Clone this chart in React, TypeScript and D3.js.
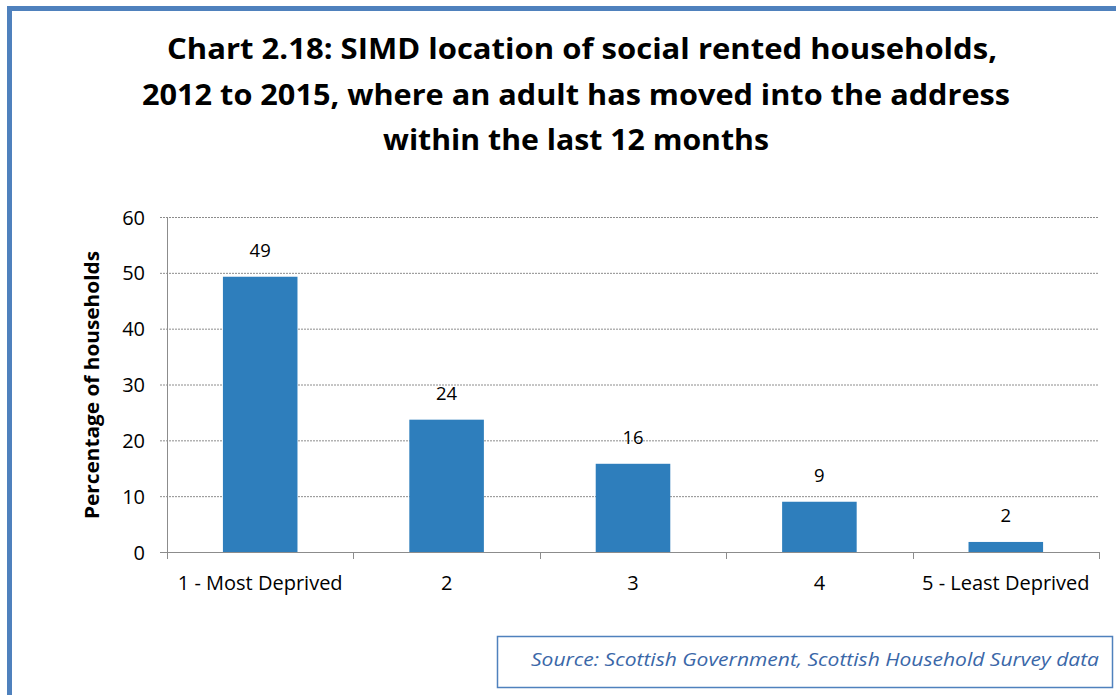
import React, { useEffect, useRef } from "react";
import * as d3 from "d3";

const categories = ["1 - Most Deprived", "2", "3", "4", "5 - Least Deprived"];
const values = [49.3, 23.7, 15.8, 9.0, 1.8];
const valueLabels = ["49", "24", "16", "9", "2"];
const yTicks = [0, 10, 20, 30, 40, 50, 60];
const titleLines = [
  "Chart 2.18: SIMD location of social rented households,",
  "2012 to 2015, where an adult has moved into the address",
  "within the last 12 months",
];
const yAxisTitle = "Percentage of households";
const sourceText = "Source: Scottish Government, Scottish Household Survey data";

const W = 1116;
const H = 695;
const FONT = "'Open Sans', sans-serif";

function fitText(sel: any, width: number) {
  sel.each(function (this: SVGTextElement) {
    const w = this.getComputedTextLength();
    if (w > 0) {
      this.setAttribute("textLength", String(width));
      this.setAttribute("lengthAdjust", "spacingAndGlyphs");
    }
  });
}

export default function App() {
  const ref = useRef<SVGSVGElement>(null);

  useEffect(() => {
    const svg = d3.select(ref.current);
    svg.selectAll("*").remove();

    // outer border
    svg.append("rect")
      .attr("x", 9.5).attr("y", 8.5)
      .attr("width", W + 20).attr("height", H + 20)
      .attr("fill", "white")
      .attr("stroke", "#4f81bd").attr("stroke-width", 5);

    // title
    const titleWidths = [830, 868, 386];
    const titleCenters = [582, 576, 576];
    titleLines.forEach((l, i) => {
      const t = svg.append("text")
        .attr("x", titleCenters[i]).attr("y", 59 + i * 45.5)
        .attr("text-anchor", "middle")
        .attr("font-family", FONT)
        .attr("font-weight", "bold")
        .attr("font-size", 28)
        .attr("fill", "#000")
        .text(l);
      fitText(t, titleWidths[i]);
    });

    const left = 167, right = 1099, top = 217, bottom = 552;
    const x = d3.scaleBand().domain(categories).range([left, right]).paddingInner(0.6).paddingOuter(0.3);
    const xb = d3.scaleBand().domain(categories).range([left, right]);
    const y = d3.scaleLinear().domain([0, 60]).range([bottom, top]);

    // gridlines
    svg.append("g").selectAll("line")
      .data(yTicks.filter(t => t > 0))
      .join("line")
      .attr("x1", left - 7).attr("x2", right)
      .attr("y1", d => y(d) + 0.5).attr("y2", d => y(d) + 0.5)
      .attr("stroke", "#8c8c8c").attr("stroke-width", 1)
      .attr("stroke-dasharray", "2,1");

    // y axis line
    svg.append("line")
      .attr("x1", left + 0.5).attr("x2", left + 0.5)
      .attr("y1", top).attr("y2", bottom)
      .attr("stroke", "#8c8c8c");

    // y tick labels
    svg.append("g").selectAll("text")
      .data(yTicks)
      .join("text")
      .attr("x", 145).attr("y", d => y(d) + 7.5)
      .attr("text-anchor", "end")
      .attr("font-family", FONT)
      .attr("font-size", 20)
      .attr("fill", "#000")
      .text(d => d);

    // bars
    svg.append("g").selectAll("rect")
      .data(values)
      .join("rect")
      .attr("x", (d, i) => x(categories[i])!)
      .attr("width", x.bandwidth())
      .attr("y", d => y(d))
      .attr("height", d => bottom - y(d))
      .attr("fill", "#2e7ebc");

    // value labels
    svg.append("g").selectAll("text")
      .data(values)
      .join("text")
      .attr("x", (d, i) => x(categories[i])! + x.bandwidth() / 2)
      .attr("y", d => y(d) - 20)
      .attr("text-anchor", "middle")
      .attr("font-family", FONT)
      .attr("font-size", 18.5)
      .attr("fill", "#000")
      .text((d, i) => valueLabels[i]);

    // x axis
    svg.append("line")
      .attr("x1", left - 7).attr("x2", right)
      .attr("y1", bottom + 0.5).attr("y2", bottom + 0.5)
      .attr("stroke", "#8c8c8c");
    const bounds = categories.map(c => xb(c)!).concat([right]);
    svg.append("g").selectAll("line")
      .data(bounds)
      .join("line")
      .attr("x1", d => Math.round(d) + 0.5).attr("x2", d => Math.round(d) + 0.5)
      .attr("y1", bottom).attr("y2", bottom + 7)
      .attr("stroke", "#8c8c8c");

    svg.append("g").selectAll("text")
      .data(categories)
      .join("text")
      .attr("x", d => xb(d)! + xb.bandwidth() / 2)
      .attr("y", 590)
      .attr("text-anchor", "middle")
      .attr("font-family", FONT)
      .attr("font-size", 20)
      .attr("fill", "#000")
      .text(d => d);

    // y axis title
    const yt = svg.append("text")
      .attr("transform", `translate(99,${385}) rotate(-90)`)
      .attr("text-anchor", "middle")
      .attr("font-family", FONT)
      .attr("font-weight", "bold")
      .attr("font-size", 19)
      .attr("fill", "#000")
      .text(yAxisTitle);
    fitText(yt, 268);

    // source box
    svg.append("rect")
      .attr("x", 497.5).attr("y", 636.5)
      .attr("width", 615).attr("height", 51)
      .attr("fill", "white")
      .attr("stroke", "#4f81bd").attr("stroke-width", 1.5);
    const st = svg.append("text")
      .attr("x", 1099).attr("y", 666)
      .attr("text-anchor", "end")
      .attr("font-family", FONT)
      .attr("font-style", "italic")
      .attr("font-size", 19)
      .attr("fill", "#3a67a8")
      .text(sourceText);
    fitText(st, 568);
  }, []);

  return (
    <svg
      ref={ref}
      width={W}
      height={H}
      style={{ position: "absolute", left: 0, top: 0, background: "white" }}
    />
  );
}
